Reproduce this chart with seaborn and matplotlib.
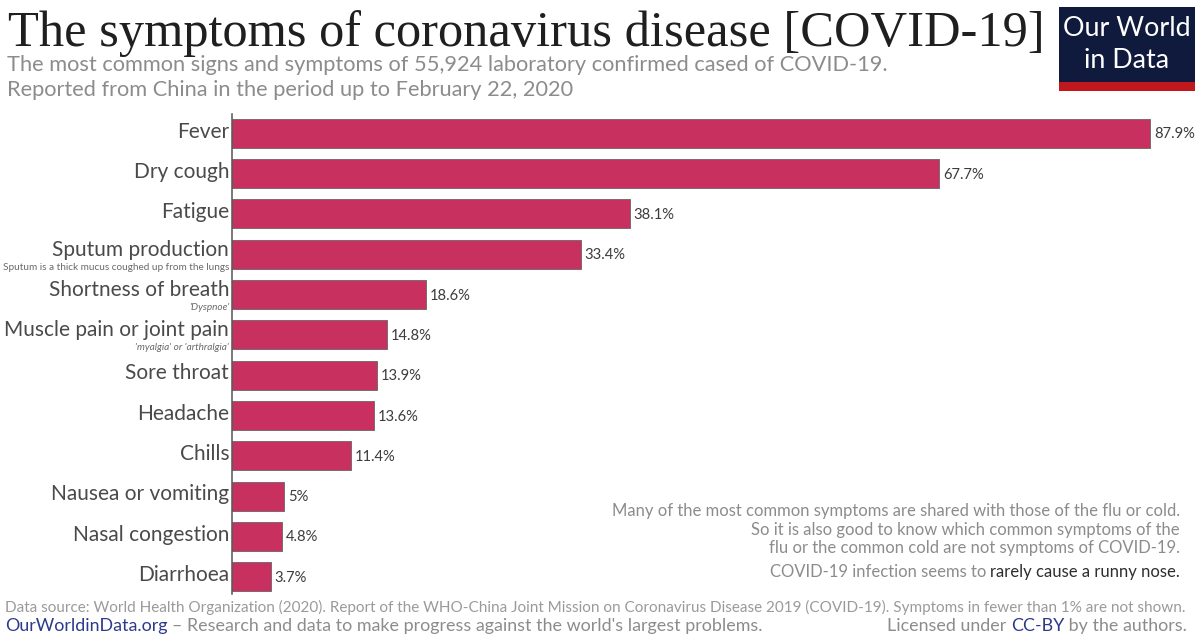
import matplotlib
matplotlib.use("Agg")
import matplotlib.pyplot as plt
import matplotlib.transforms as mtrans
from matplotlib.patches import Rectangle
import pandas as pd
import seaborn as sns

W, H = 1200, 642

symptoms = ["Fever", "Dry cough", "Fatigue", "Sputum production", "Shortness of breath",
            "Muscle pain or joint pain", "Sore throat", "Headache", "Chills",
            "Nausea or vomiting", "Nasal congestion", "Diarrhoea"]
shares = [87.9, 67.7, 38.1, 33.4, 18.6, 14.8, 13.9, 13.6, 11.4, 5.0, 4.8, 3.7]
share_labels = ["87.9%", "67.7%", "38.1%", "33.4%", "18.6%", "14.8%", "13.9%", "13.6%",
                "11.4%", "5%", "4.8%", "3.7%"]
notes = {3: ("Sputum is a thick mucus coughed up from the lungs", "normal"),
         4: ("'Dyspnoe'", "italic"),
         5: ("'myalgia' or 'arthralgia'", "italic")}

BAR = "#c83060"
GREY = "#8c8c8c"
DARK = "#4a4a4a"

sns.set_theme(style="white")
plt.rcParams["font.family"] = ["Lato", "DejaVu Sans"]

fig = plt.figure(figsize=(W / 100, H / 100), dpi=100, facecolor="white")
ax = fig.add_axes([232 / W, 1 - 594 / H, (1198 - 232) / W, (594 - 114) / H])

df = pd.DataFrame({"symptom": symptoms, "share": shares})
sns.barplot(data=df, x="share", y="symptom", color=BAR, saturation=1, width=0.72,
            edgecolor="#7a6a70", linewidth=0.7, ax=ax)
ax.set_xlim(0, (1198 - 232) / 10.444)
ax.set_ylim(11.43, -0.48)
ax.set_xlabel("")
ax.set_ylabel("")
ax.set_xticks([])
sns.despine(ax=ax, left=False, bottom=True)
ax.spines["left"].set_color("#555555")
ax.spines["left"].set_linewidth(1.1)

for t in ax.bar_label(ax.containers[0], labels=share_labels, padding=2.8, fontsize=10.6, color="#3c3c3c"):
    t.xyann = (t.xyann[0], t.xyann[1] - 0.8)

# tick labels sit above the bar centre, more so when a note is under them
ax.tick_params(axis="y", length=0, pad=2)
for i, lab in enumerate(ax.get_yticklabels()):
    lab.set_fontsize(15)
    lab.set_color(DARK)
    up = 3.2 if i in notes else 1.2
    lab.set_transform(lab.get_transform() + mtrans.ScaledTranslation(0, up / 72, fig.dpi_scale_trans))
    lab.set_va("center")

for i, (txt, style) in notes.items():
    ax.annotate(txt, xy=(0, i), xycoords=("axes fraction", "data"), xytext=(-2, -9.3),
                textcoords="offset points", ha="right", va="center",
                fontsize=7.2, style=style, color="#6a6a6a")


def put(x, y, s, **kw):
    return fig.text(x / W, 1 - y / H, s, **kw)


def put_right(x, y, parts, size):
    # parts: (string, colour), laid out from the right edge
    r = fig.canvas.get_renderer()
    for s, col in reversed(parts):
        t = put(x, y, s, fontsize=size, color=col, ha="right", va="center")
        x = t.get_window_extent(r).x0


put(8, 46, "The symptoms of coronavirus disease [COVID-19]", fontsize=36.4,
    family=["Liberation Serif"], color="#1f1f1f", va="baseline")
put(7, 65, "The most common signs and symptoms of 55,924 laboratory confirmed cased of COVID-19.",
    fontsize=15.65, color=GREY, va="center")
put(7, 90, "Reported from China in the period up to February 22, 2020",
    fontsize=15.65, color=GREY, va="center")

# logo
fig.add_artist(Rectangle((1059 / W, 1 - 91 / H), 136 / W, 84 / H, transform=fig.transFigure,
                         facecolor="#0f1a3c", edgecolor="none"))
fig.add_artist(Rectangle((1059 / W, 1 - 91 / H), 136 / W, 9 / H, transform=fig.transFigure,
                         facecolor="#c0181c", edgecolor="none"))
put(1127, 29, "Our World", fontsize=19.4, color="white", ha="center", va="center")
put(1127, 60, "in Data", fontsize=19.4, color="white", ha="center", va="center")

fig.canvas.draw()
put_right(1180, 511, [("Many of the most common symptoms are shared with those of the flu or cold.", GREY)], 12)
put_right(1180, 530, [("So it is also good to know which common symptoms of the", GREY)], 12)
put_right(1180, 548, [("flu or the common cold are not symptoms of COVID-19.", GREY)], 12)
put_right(1180, 572, [("COVID-19 infection seems to ", GREY), ("rarely cause a runny nose.", "#2e2e2e")], 12)

put(5, 607, "Data source: World Health Organization (2020). Report of the WHO-China Joint Mission on "
    "Coronavirus Disease 2019 (COVID-19). Symptoms in fewer than 1% are not shown.",
    fontsize=10.96, color="#9a9a9a", va="center")

r = fig.canvas.get_renderer()
t = put(5, 626, "OurWorldinData.org", fontsize=12.9, color="#2c3a8c", va="center")
put(t.get_window_extent(r).x1 + 5, 626, "– Research and data to make progress against the world's largest problems.",
    fontsize=12.9, color=GREY, va="center")
put_right(1187, 626, [("Licensed under ", GREY), ("CC-BY", "#2c3a8c"), (" by the authors.", GREY)], 12.9)

fig.savefig("out.png", dpi=100)
